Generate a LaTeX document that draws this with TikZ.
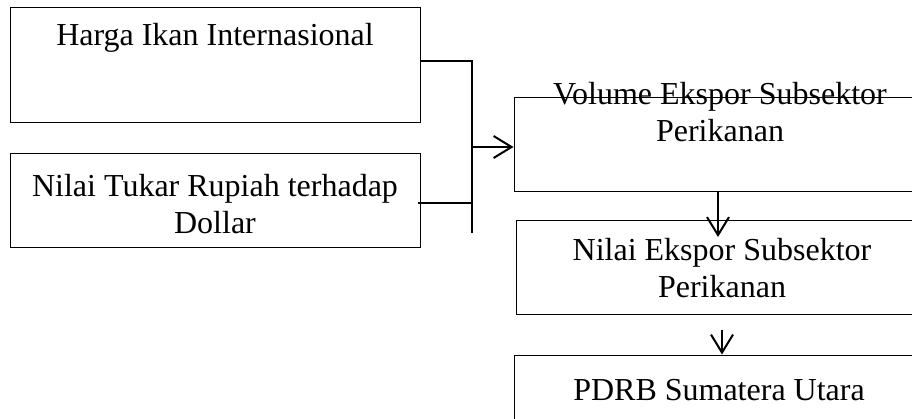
\documentclass[tikz,border=0pt]{standalone}
\usepackage{fontspec}
\setmainfont{Liberation Serif}
\usetikzlibrary{arrows.meta}
\tikzset{
  box/.style={draw, line width=0.75pt, inner sep=0pt},
  lbl/.style={font=\fontsize{24}{27.75}\selectfont, align=center, inner sep=0pt, anchor=base},
  link/.style={line width=1.5pt},
  arr/.style={line width=1.5pt, -{Straight Barb[length=13.5pt, width=16.5pt]}}
}
\begin{document}
\begin{tikzpicture}[x=0.75pt, y=-0.75pt]
    \clip (0,0) rectangle (912,418) ;
    % kotak
    \node[box, minimum width=307.5pt, minimum height=86.25pt] (harga) at (215,64.5) {} ;
    \node[box, minimum width=307.5pt, minimum height=70.5pt] (kurs) at (215,200) {} ;
    \node[box, minimum width=309pt, minimum height=70.5pt] (volume) at (720,144) {} ;
    \node[box, minimum width=309pt, minimum height=70.5pt] (ekspor) at (722,267) {} ;
    \node[box, minimum width=307.5pt, minimum height=71.25pt] (pdrb) at (719,402.5) {} ;
    % teks (base = baris terakhir)
    \node[lbl] (hargatxt) at (215,45) {Harga Ikan Internasional} ;
    \node[lbl] (kurstxt) at (215,233) {Nilai Tukar Rupiah terhadap\\Dollar} ;
    \node[lbl] (volumetxt) at (720,141) {Volume Ekspor Subsektor\\Perikanan} ;
    \node[lbl] (eksportxt) at (722,297) {Nilai Ekspor Subsektor\\Perikanan} ;
    \node[lbl] (pdrbtxt) at (719,400) {PDRB Sumatera Utara} ;
    % garis
    \coordinate (atas) at (472,61) ;
    \coordinate (bawah) at (472,233) ;
    \coordinate (cabang) at (472,203) ;
    \coordinate (tengah) at (472,147) ;
    \draw[link] (harga.east |- atas) -- (atas) -- (bawah) ;
    \draw[link] ([xshift=-2.25pt]kurs.east |- cabang) -- (cabang) ;
    \draw[arr] (tengah) -- (volume.west |- tengah) ;
    \coordinate (ujung) at (718,237) ;
    \draw[arr] (volume.south -| ujung) -- (ujung) ;
    \coordinate (pangkal) at (722,330) ;
    \draw[arr] (pangkal) -- (pangkal |- pdrb.north) ;
\end{tikzpicture}
\end{document}
